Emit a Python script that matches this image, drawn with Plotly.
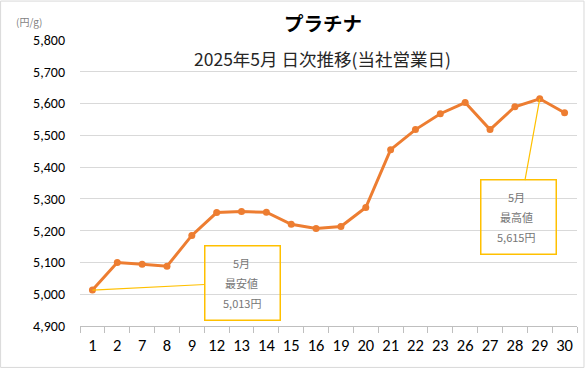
import plotly.graph_objects as go

days = ["1", "2", "7", "8", "9", "12", "13", "14", "15", "16",
        "19", "20", "21", "22", "23", "26", "27", "28", "29", "30"]
prices = [5013, 5100, 5094, 5088, 5185, 5257, 5260, 5258, 5220, 5207,
          5213, 5273, 5455, 5518, 5568, 5603, 5518, 5590, 5615, 5571]
y_ticks = [4900, 5000, 5100, 5200, 5300, 5400, 5500, 5600, 5700, 5800]

title_text = "プラチナ"
subtitle_text = "2025年5月 日次推移(当社営業日)"
unit_text = "(円/g)"

W, H = 585, 368
L, R, T, B = 80, 7.5, 39.5, 42
pw, ph = W - L - R, H - T - B

def px(xp):
    return (xp - L) / pw

def py(yp):
    return (H - B - yp) / ph

FONT = "Calibri, Carlito, 'Noto Sans CJK JP', sans-serif"
JP = "'Noto Sans CJK JP', sans-serif"

fig = go.Figure()
fig.add_trace(go.Scatter(
    x=days, y=prices, mode="lines+markers",
    line=dict(color="#ED7D31", width=3),
    marker=dict(color="#ED7D31", size=7),
    hoverinfo="skip", showlegend=False,
))

i_min = prices.index(min(prices))
i_max = prices.index(max(prices))

anns = []
# boxes with connector lines (x given as category index)
for idx, ax, ay in [(i_min, 150, -7.5), (i_max, -21.5, 118.5)]:
    anns.append(dict(
        x=idx, y=prices[idx], xref="x", yref="y",
        ax=ax, ay=ay, axref="pixel", ayref="pixel",
        text=" ", showarrow=True, arrowhead=0, arrowwidth=1.2,
        arrowcolor="#FFC000", bordercolor="#FFC000", borderwidth=1.5,
        borderpad=0, width=74, height=73, bgcolor="rgba(255,255,255,0)",
        standoff=0, startstandoff=0,
    ))

def box_text(cx, cy, label, val):
    for dy, t in [(-20, "5月"), (0, label), (20, f"{val:,}円")]:
        anns.append(dict(
            x=px(cx), y=py(cy + dy), xref="paper", yref="paper",
            text=t, showarrow=False, xanchor="center", yanchor="middle",
            font=dict(family=JP, size=11, color="#767676"),
        ))

box_text(242, 282.5, "最安値", prices[i_min])
box_text(516.5, 216.5, "最高値", prices[i_max])

anns.append(dict(x=px(323), y=py(22), xref="paper", yref="paper",
                 text=f"<b>{title_text}</b>", showarrow=False,
                 xanchor="center", yanchor="middle",
                 font=dict(family=JP, size=19.5, color="#000000")))
anns.append(dict(x=px(323), y=py(58), xref="paper", yref="paper",
                 text=subtitle_text, showarrow=False,
                 xanchor="center", yanchor="middle",
                 font=dict(family=JP, size=17.5, color="#262626")))
anns.append(dict(x=px(14), y=py(21), xref="paper", yref="paper",
                 text=unit_text, showarrow=False,
                 xanchor="left", yanchor="middle",
                 font=dict(family=JP, size=10, color="#7f7f7f")))

shapes = [dict(type="rect", xref="paper", yref="paper",
               x0=px(0.5), x1=px(584.5), y0=py(367.5), y1=py(0.5),
               line=dict(color="#D9D9D9", width=1), layer="below")]

fig.update_layout(
    width=W, height=H,
    margin=dict(l=L, r=R, t=T, b=B, autoexpand=False),
    paper_bgcolor="white", plot_bgcolor="white",
    annotations=anns, shapes=shapes,
    xaxis=dict(
        type="category", range=[-0.5, len(days) - 0.5],
        tickson="boundaries", ticks="outside", ticklen=6,
        tickcolor="#BFBFBF", showgrid=False, showline=True,
        linecolor="#BFBFBF", linewidth=1, tickangle=0, automargin=False,
        tickfont=dict(family=FONT, size=16.5, color="#000000"),
        ticklabelstandoff=4, fixedrange=True,
    ),
    yaxis=dict(
        range=[4900, 5800], tickvals=y_ticks,
        ticktext=[f"{v:,}" for v in y_ticks],
        showgrid=True, gridcolor="#D9D9D9", gridwidth=1,
        zeroline=False, showline=False, ticks="", automargin=False,
        tickfont=dict(family=FONT, size=14, color="#000000"),
        ticklabelstandoff=14, fixedrange=True,
    ),
)

fig.write_html(
    "out.html",
    config={"displayModeBar": False},
    post_script="document.body.style.margin='0';document.body.style.overflow='hidden';",
)
